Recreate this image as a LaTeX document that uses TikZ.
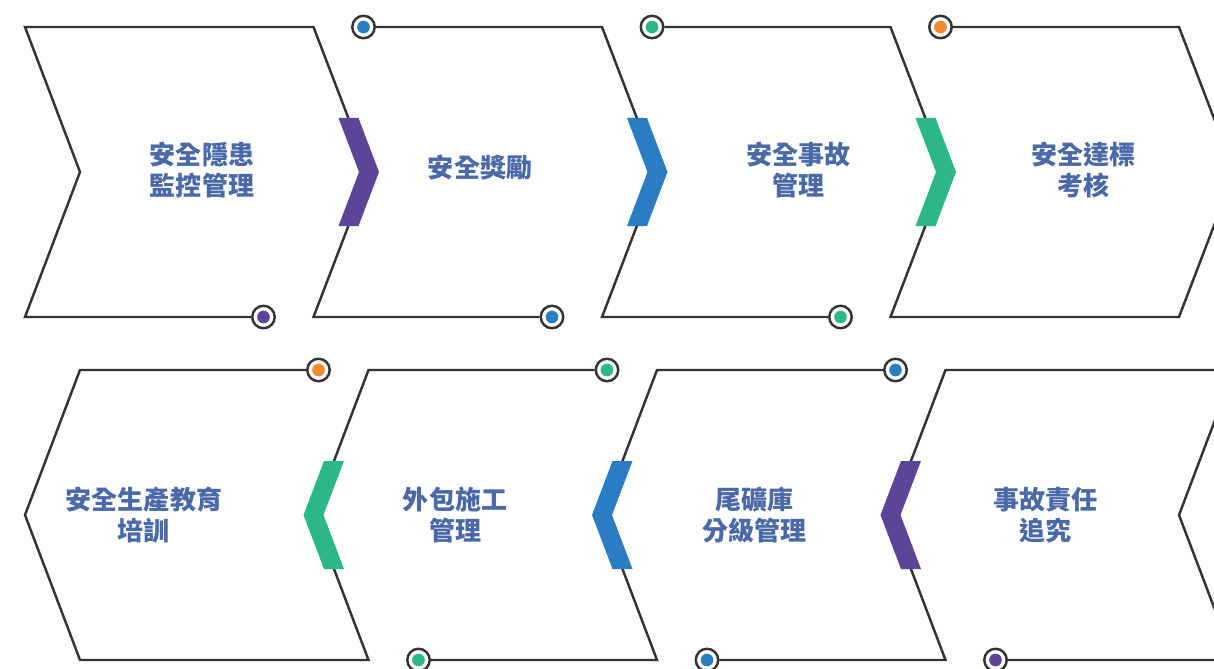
\documentclass[tikz,border=0pt]{standalone}
\usepackage{fontspec}
\usepackage{tikz}
\newfontfamily\cjk{Noto Sans CJK TC}
\definecolor{edgegray}{HTML}{333333}
\definecolor{txtblue}{HTML}{4A69A8}
\definecolor{cpurple}{HTML}{5C4498}
\definecolor{cblue}{HTML}{2A7DC2}
\definecolor{cgreen}{HTML}{2BB886}
\definecolor{corange}{HTML}{F28A30}
\tikzset{
	lbl/.style={text=txtblue, align=center, font=\cjk\bfseries\fontsize{14.8pt}{17.6pt}\selectfont},
	dot/.style={circle, draw=edgegray, line width=1.4pt, fill=white, minimum size=12.8pt, inner sep=0pt,
		path picture={\fill[#1] (path picture bounding box.center) circle (3.6pt);}},
}

\begin{document}
\begin{tikzpicture}[x=0.02cm, y=-0.02cm, line width=1.4pt, draw=edgegray]
					\useasboundingbox (0,0) rectangle (1214,669);
					\clip (0,0) rectangle (1214,669);
					% Markers on the upper row
					\node[dot=cblue] (ta) at (363.5,27) {};
					\node[dot=cgreen] (tb) at (652,27) {};
					\node[dot=corange] (tc) at (940.5,27) {};
					\node[dot=cpurple] (ba) at (263.5,317) {};
					\node[dot=cblue] (bb) at (552,317) {};
					\node[dot=cgreen] (bc) at (840.5,317) {};
					% Upper row outlines
					\draw (ba) -- (25,317) -- (80,172) -- (25,27) -- (313.5,27) -- (369,172) -- (313.5,317) -- (bb);
					\draw (ta) -- (602,27) -- (657.5,172) -- (602,317) -- (bc);
					\draw (tb) -- (890.5,27) -- (946,172) -- (890.5,317) -- (1179,317) -- (1234.5,172) -- (1179,27) -- (tc);
					% Arrow bands, upper row
					\foreach \tx/\c in {369/cpurple, 657.5/cblue, 946/cgreen}
						\fill[\c] (\tx-30.5,118) -- (\tx-10.5,118) -- (\tx+10,172) -- (\tx-10.5,226) -- (\tx-30.5,226) -- (\tx-10,172) -- cycle;
					% Markers on the lower row
					\node[dot=corange] (tA) at (318.5,370) {};
					\node[dot=cgreen] (tB) at (607,370) {};
					\node[dot=cblue] (tC) at (895.5,370) {};
					\node[dot=cgreen] (bA) at (418.5,660) {};
					\node[dot=cblue] (bB) at (707,660) {};
					\node[dot=cpurple] (bC) at (995.5,660) {};
					% Lower row outlines
					\draw (tA) -- (80,370) -- (25,515) -- (80,660) -- (368.5,660) -- (313.5,515) -- (368.5,370) -- (tB);
					\draw (bA) -- (657,660) -- (602,515) -- (657,370) -- (tC);
					\draw (bB) -- (945.5,660) -- (890.5,515) -- (945.5,370) -- (1234,370) -- (1179,515) -- (1234,660) -- (bC);
					% Arrow bands, lower row
					\foreach \tx/\c in {313.5/cgreen, 602/cblue, 890.5/cpurple}
						\fill[\c] (\tx+30.5,461) -- (\tx+10.5,461) -- (\tx-10,515) -- (\tx+10.5,569) -- (\tx+30.5,569) -- (\tx+10,515) -- cycle;
					% Labels
					\node[lbl] (s1) at (202,170) {安全隱患\\監控管理};
					\node[lbl] (s2) at (480,168) {安全獎勵};
					\node[lbl] (s3) at (798,170) {安全事故\\管理};
					\node[lbl] (s4) at (1083,170) {安全達標\\考核};
					\node[lbl] (r1) at (144,515) {安全生產教育\\培訓};
					\node[lbl] (r2) at (455,515) {外包施工\\管理};
					\node[lbl] (r3) at (754,515) {尾礦庫\\分級管理};
					\node[lbl] (r4) at (1045,515) {事故責任\\追究};
				\end{tikzpicture}
\end{document}
